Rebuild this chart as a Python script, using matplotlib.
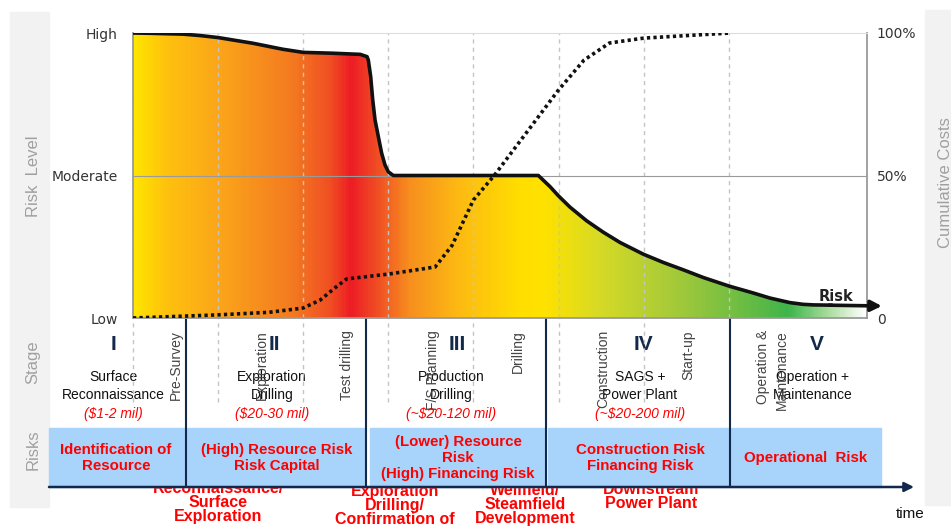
import matplotlib
matplotlib.use("Agg")
import matplotlib.pyplot as plt
import numpy as np
from matplotlib.colors import LinearSegmentedColormap
from matplotlib.patches import Polygon, Rectangle

# ---- data ----
# x in "grid steps" (one dashed gridline per step), y in percent (Low=0, Moderate=50, High=100)
risk_x = [0, 0.2, 0.59, 0.79, 1.0, 1.41, 1.76, 2.0, 2.35, 2.67, 2.75, 2.765, 2.793, 2.817,
          2.844, 2.883, 2.922, 2.961, 3.0, 3.059,
          4.763, 4.90, 4.998, 5.135, 5.331, 5.526, 5.723, 5.996, 6.231, 6.467, 6.702,
          7.004, 7.286, 7.485, 7.72, 7.873, 7.991, 8.2]
risk_y = [100, 99.9, 99.6, 99.1, 98.4, 96.4, 94.3, 93.2, 92.9, 92.5, 91.7, 90.5, 84.7, 76.5,
          69.5, 63.6, 57.8, 53.7, 51.3, 50,
          50, 46.1, 42.9, 38.9, 34.1, 30.1, 26.5, 22.4, 19.5, 16.9, 14.2,
          11.2, 8.8, 7.0, 5.4, 4.8, 4.6, 4.5]

cost_x = [0, 1.0, 1.6, 2.0, 2.2, 2.37, 2.51, 3.0, 3.55, 3.75, 4.0, 4.25, 5.0, 5.3, 5.6, 6.0, 7.02]
cost_y = [0, 1.1, 2.0, 3.5, 6.3, 10.5, 13.7, 15.4, 17.9, 25.5, 41.4, 50.2, 80.0, 90.5, 96.5, 98.2, 100]

level_ticks = [0, 50, 100]
level_labels = ["Low", "Moderate", "High"]
cost_labels = ["0", "50%", "100%"]

stage_numerals = ["I", "II", "III", "IV", "V"]
stage_names = ["Surface\nReconnaissance", "Exploration\nDrilling", "Production\nDrilling",
               "SAGS +\nPower Plant", "Operation +\nMaintenance"]
stage_costs = ["($1-2 mil)", "($20-30 mil)", "(~$20-120 mil)", "(~$20-200 mil)", ""]
stage_risks = ["Identification of\nResource", "(High) Resource Risk\nRisk Capital",
               "(Lower) Resource\nRisk\n(High) Financing Risk",
               "Construction Risk\nFinancing Risk", "Operational  Risk"]
activities = ["Pre-Survey", "Exploration", "Test drilling", "F/S Planning", "Drilling",
              "Construction", "Start-up", "Operation &", "Maintenance"]
lower_labels = ["Reconnaissance/\nSurface\nExploration", "Exploration\nDrilling/\nConfirmation of",
                "Wellfield/\nSteamfield\nDevelopment", "Downstream\nPower Plant"]

# ---- layout (pixels) ----
W, H = 951, 527
AX_L, AX_R, AX_T, AX_B = 133, 867, 33, 318
STEP = 85.1
XMAX = (AX_R - AX_L) / STEP

arial = ["Liberation Sans", "DejaVu Sans"]

fig = plt.figure(figsize=(W / 100, H / 100), dpi=100)

# overlay in pixel coordinates
ov = fig.add_axes([0, 0, 1, 1], zorder=0)
ov.set_xlim(0, W)
ov.set_ylim(H, 0)
ov.axis("off")

ov.add_patch(Rectangle((10, 12), 39, 495, color="#f2f2f2", zorder=0))
ov.add_patch(Rectangle((925, 10), 30, 495, color="#f2f2f2", zorder=0))
for txt, y in [("Risk  Level", 176), ("Stage", 362), ("Risks", 450)]:
    ov.text(33, y, txt, rotation=90, ha="center", va="center", fontsize=12,
            color="#a0a0a0", family=arial)
ov.text(945, 183, "Cumulative Costs", rotation=90, ha="center", va="center",
        fontsize=12, color="#a0a0a0", family=arial)

# main chart
ax = fig.add_axes([AX_L / W, 1 - AX_B / H, (AX_R - AX_L) / W, (AX_B - AX_T) / H], zorder=2)
ax.set_facecolor("none")
ax.set_xlim(0, XMAX)
ax.set_ylim(0, 100)

grad_pos = [133, 165, 218, 290, 330, 350, 375, 410, 460, 520, 545, 600, 680, 760, 790, 830, 867]
grad_col = ["#ffe400", "#fec10e", "#fba51a", "#f47b20", "#f04e23", "#ed1c24", "#f04a24",
            "#f7901e", "#fdbb12", "#ffde00", "#ffe200", "#d6da26", "#a2c93a", "#5eba46", "#3db54a",
            "#a8dc9c", "#ffffff"]
stops = [min(1.0, max(0.0, (p - AX_L) / (AX_R - AX_L))) for p in grad_pos]
cmap = LinearSegmentedColormap.from_list("risk", list(zip(stops, grad_col)))
im = ax.imshow(np.linspace(0, 1, 600)[None, :], cmap=cmap, aspect="auto",
               extent=[0, XMAX, 0, 100], zorder=1)
fill_x = risk_x + [XMAX]
fill_y = risk_y + [4.4]
poly = Polygon(list(zip(fill_x, fill_y)) + [(XMAX, 0), (0, 0)], closed=True,
               facecolor="none", edgecolor="none", transform=ax.transData)
ax.add_patch(poly)
im.set_clip_path(poly)

# gridlines, extended down into the stage row
below = -(402 - AX_B) / (AX_B - AX_T) * 100
ax.vlines(np.arange(1, 8), 0, 100, colors="#c4c4c4", linestyles=(0, (3, 3)), lw=1, zorder=2)
ax.vlines(np.arange(0, 7), below, 0, colors="#c4c4c4", linestyles=(0, (3, 3)), lw=1,
          zorder=2, clip_on=False)
ax.axhline(50, color="#9a9a9a", lw=0.8, zorder=2)

ax.plot(risk_x, risk_y, color="#111111", lw=2.6, zorder=4, solid_joinstyle="round")
ax.annotate("", xy=(8.8, 4.2), xytext=(risk_x[-1] - 0.02, risk_y[-1]),
            arrowprops=dict(arrowstyle="-|>", lw=2.6, color="#111111", mutation_scale=16,
                            shrinkA=0, shrinkB=0), annotation_clip=False, zorder=4)
ax.text(8.26, 7.4, "Risk", ha="center", va="center", fontsize=10.5, fontweight="bold",
        color="#222222")
ax.plot(cost_x, cost_y, color="#111111", lw=2.6, ls=(0, (0.9, 0.9)), zorder=5)

for s in ["left", "bottom", "right"]:
    ax.spines[s].set_color("#9a9a9a")
    ax.spines[s].set_linewidth(1.3)
ax.spines["top"].set_color("#dddddd")
ax.set_xticks([])
ax.set_yticks(level_ticks, level_labels)
ax.tick_params(axis="y", length=0, pad=11, labelsize=10, labelcolor="#333333")

ax2 = ax.twinx()
ax2.set_ylim(0, 100)
ax2.set_yticks(level_ticks, cost_labels)
ax2.tick_params(axis="y", length=0, pad=7, labelsize=10, labelcolor="#333333")
for s in ax2.spines.values():
    s.set_visible(False)

# ---- stage row ----
navy = "#13294b"
for x in [185.5, 365.5, 545.5, 729.5]:
    ov.plot([x, x], [AX_B, 487], color=navy, lw=1.5, zorder=5)

num_x = [113, 274, 457, 643, 817]
name_x = [113, 272, 451, 640, 813]
for i in range(5):
    ov.text(num_x[i], 344, stage_numerals[i], ha="center", va="center", fontsize=15,
            fontweight="bold", color=navy, family=arial, zorder=4)
    ov.text(name_x[i], 386, stage_names[i], ha="center", va="center", fontsize=10,
            color="#111111", family=arial, zorder=4, linespacing=1.35)
    ov.text(name_x[i], 414, stage_costs[i], ha="center", va="center", fontsize=10,
            style="italic", color="#ff0000", family=arial, zorder=4)

act_x = [176, 262, 347, 433, 518, 603, 688, 763, 782]
for x, a in zip(act_x, activities):
    ov.text(x, 330, a, rotation=90, ha="center", va="top", fontsize=10,
            color="#444444", family=arial, zorder=4)

# ---- risk boxes ----
box_x = [(49, 185), (187, 365), (370, 545), (548, 729), (731, 881)]
risk_tx = [116, 277, 458, 640, 806]
for (x0, x1), tx, r in zip(box_x, risk_tx, stage_risks):
    ov.add_patch(Rectangle((x0, 428), x1 - x0, 59, color="#a8d3fa", zorder=3))
    ov.text(tx, 458, r, ha="center", va="center", fontsize=10.8, fontweight="bold",
            color="#ff0000", family=arial, zorder=4, linespacing=1.2)

low_x = [218, 395, 525, 651]
low_top = [489, 492, 491, 490]
for x, y, t in zip(low_x, low_top, lower_labels):
    ov.text(x, y - 8, t, ha="center", va="top", fontsize=11.5, fontweight="bold",
            color="#ff0000", family=arial, zorder=2, linespacing=0.92)

ov.annotate("", xy=(914, 487), xytext=(49, 487),
            arrowprops=dict(arrowstyle="-|>", lw=1.8, color=navy, mutation_scale=14,
                            shrinkA=0, shrinkB=0), zorder=6)
ov.text(910, 514, "time", ha="center", va="center", fontsize=11, color="#111111", family=arial)

fig.savefig("out.png", dpi=100)
